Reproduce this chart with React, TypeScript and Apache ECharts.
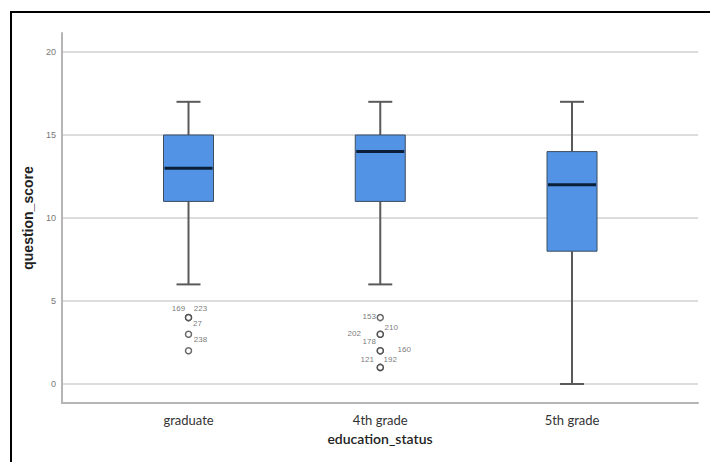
import React, { useEffect, useRef } from "react";
import * as echarts from "echarts";

const categories = ["graduate", "4th grade", "5th grade"];
const whiskerLow = [6, 6, 0];
const quartile1 = [11, 11, 8];
const medians = [13, 14, 12];
const quartile3 = [15, 15, 14];
const whiskerHigh = [17, 17, 17];

const yTicks = [0, 5, 10, 15, 20];

const outlierGroup = [0, 0, 0, 0, 1, 1, 1, 1, 1, 1, 1];
const outlierValue = [4, 4, 3, 2, 4, 3, 3, 2, 2, 1, 1];
const outlierId = ["169", "223", "27", "238", "153", "210", "202", "178", "160", "121", "192"];
const labelOffsets: [number, number][] = [
  [-10, -9], [12, -9], [9, -11], [12, -11],
  [-11, -1], [11, -7], [-26, -1], [-11, -9], [24, -1], [-13, -8], [10, -8],
];

export default function App() {
  const ref = useRef<HTMLDivElement>(null);
  useEffect(() => {
    if (!ref.current) return;
    const chart = echarts.init(ref.current, null, { renderer: "svg" });
    const boxData = categories.map((_, i) => [
      i, whiskerLow[i], quartile1[i], medians[i], quartile3[i], whiskerHigh[i],
    ]);
    const outliers = outlierGroup.map((g, i) => ({
      value: [g, outlierValue[i]],
      label: {
        show: true,
        formatter: outlierId[i],
        position: "inside",
        offset: labelOffsets[i],
        fontSize: 8,
        color: "#555",
        textBorderWidth: 0,
        fontFamily: "Liberation Sans",
      },
    }));
    chart.setOption({
      animation: false,
      backgroundColor: "#fff",
      graphic: [
        {
          type: "rect",
          shape: { x: 11, y: 12, width: 720, height: 470 },
          style: { fill: "none", stroke: "#000", lineWidth: 2 },
          silent: true,
        },
      ],
      grid: { left: 62, right: 12, top: 33, bottom: 59 },
      xAxis: {
        type: "value",
        min: -0.6597,
        max: 2.657,
        axisLine: { show: true, onZero: false, lineStyle: { color: "#b5b5b5", width: 2 } },
        axisTick: { show: false },
        splitLine: { show: false },
        axisLabel: {
          customValues: [0, 1, 2],
          formatter: (v: number) => categories[Math.round(v)] ?? "",
          fontSize: 13,
          color: "#333",
          fontFamily: "Lato",
          margin: 10,
        },
        name: "education_status",
        nameLocation: "middle",
        nameGap: 28,
        nameTextStyle: { fontSize: 14, fontWeight: 600, color: "#222", fontFamily: "Lato" },
      },
      yAxis: {
        type: "value",
        min: -1.1446,
        max: 21.145,
        axisLine: { show: true, onZero: false, lineStyle: { color: "#b5b5b5", width: 2 } },
        axisTick: { show: false, customValues: yTicks },
        splitLine: { show: true, lineStyle: { color: "#dcdcdc", width: 2 } },
        axisLabel: {
          customValues: yTicks,
          fontSize: 9,
          color: "#777",
          fontFamily: "Liberation Sans",
          margin: 6,
        },
        name: "question_score",
        nameLocation: "middle",
        nameGap: 20,
        nameRotate: 90,
        nameTextStyle: { fontSize: 14, fontWeight: "bold", color: "#222", fontFamily: "Liberation Sans" },
      },
      series: [
        {
          type: "custom",
          data: boxData,
          encode: { x: 0, y: [1, 2, 3, 4, 5] },
          renderItem: (params: any, api: any) => {
            const x = api.value(0);
            const pLow = api.coord([x, api.value(1)]);
            const pQ1 = api.coord([x, api.value(2)]);
            const pMed = api.coord([x, api.value(3)]);
            const pQ3 = api.coord([x, api.value(4)]);
            const pHigh = api.coord([x, api.value(5)]);
            const cx = pLow[0];
            const bw = 50;
            const cw = 24;
            const wStyle = { stroke: "#5a5a5a", lineWidth: 2 };
            return {
              type: "group",
              children: [
                { type: "line", shape: { x1: cx, y1: pHigh[1], x2: cx, y2: pQ3[1] }, style: wStyle },
                { type: "line", shape: { x1: cx, y1: pQ1[1], x2: cx, y2: pLow[1] }, style: wStyle },
                { type: "line", shape: { x1: cx - cw / 2, y1: pHigh[1], x2: cx + cw / 2, y2: pHigh[1] }, style: wStyle },
                { type: "line", shape: { x1: cx - cw / 2, y1: pLow[1], x2: cx + cw / 2, y2: pLow[1] }, style: wStyle },
                {
                  type: "rect",
                  shape: { x: cx - bw / 2, y: pQ3[1], width: bw, height: pQ1[1] - pQ3[1] },
                  style: { fill: "#5293e6", stroke: "#3d4d60", lineWidth: 1 },
                },
                {
                  type: "line",
                  shape: { x1: cx - bw / 2 + 1, y1: pMed[1], x2: cx + bw / 2 - 1, y2: pMed[1] },
                  style: { stroke: "#0b2038", lineWidth: 3 },
                },
              ],
            };
          },
          z: 3,
        },
        {
          type: "scatter",
          data: outliers,
          symbol: "circle",
          symbolSize: 6,
          itemStyle: { color: "#fff", borderColor: "#444", borderWidth: 1.5 },
          z: 4,
        },
      ],
    });
    return () => chart.dispose();
  }, []);
  return (
    <div
      ref={ref}
      style={{ position: "fixed", left: 0, top: 0, width: 710, height: 462 }}
    />
  );
}
